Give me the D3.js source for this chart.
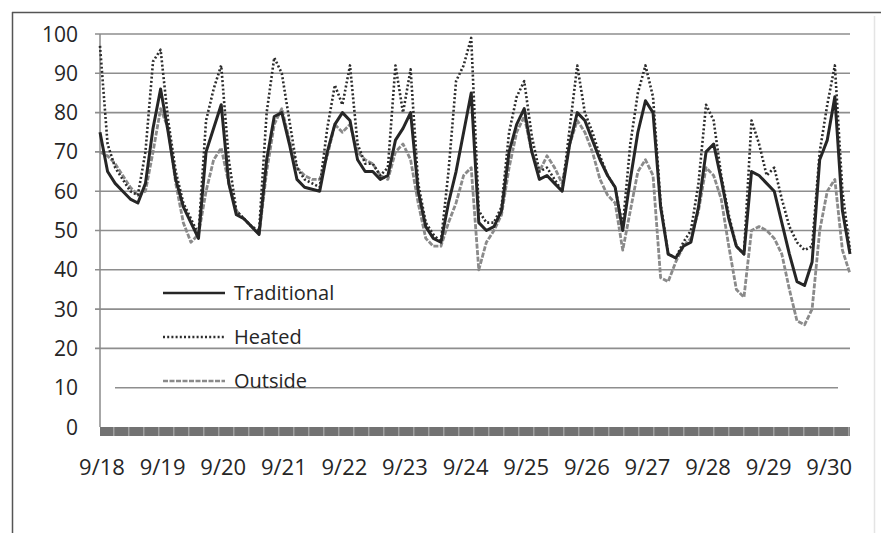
<!DOCTYPE html>
<html>
<head>
<meta charset="utf-8">
<script src="https://cdn.jsdelivr.net/npm/d3@7.9.0/dist/d3.min.js"></script>
<style>
  body { margin: 0; background: #fff; }
  svg { display: block; }
  text { font-family: "Open Sans", sans-serif; fill: #262626; }
</style>
</head>
<body>
<svg id="chart" width="881" height="533"></svg>
<script>
// readings every 3 hours, 9/18 through 9/30
const dayLabels = ['9/18', '9/19', '9/20', '9/21', '9/22', '9/23', '9/24',
                   '9/25', '9/26', '9/27', '9/28', '9/29', '9/30'];
const yTicks = [0, 10, 20, 30, 40, 50, 60, 70, 80, 90, 100];

const traditional = [
  75, 65, 62, 60, 58, 57, 62, 76, 86, 75,
  63, 56, 52, 48, 70, 76, 82, 62, 54, 53,
  51, 49, 68, 79, 80, 72, 63, 61, 60.5, 60,
  70, 77, 80, 78, 68, 65, 65, 63, 64, 73,
  76, 80, 60, 51, 48, 47, 57, 65, 75, 85,
  52, 50, 51, 55, 70, 77, 81, 70, 63, 64,
  62, 60, 72, 80, 78, 73, 68, 64, 61, 50,
  63, 75, 83, 80, 56, 44, 43, 46, 47, 56,
  70, 72, 63, 53, 46, 44, 65, 64, 62, 60,
  52, 44, 37, 36, 42, 68, 73, 84, 55, 44
];
const heated = [
  97, 72, 66, 63, 60, 59, 70, 93, 96, 78,
  65, 57, 53, 49, 78, 86, 92, 68, 55, 53,
  51, 50, 80, 94, 90, 78, 66, 63, 62, 61,
  76, 87, 82, 92, 72, 67, 67, 64, 66, 92,
  80, 91, 62, 52, 49, 47, 65, 88, 92, 99,
  55, 52, 52, 56, 75, 84, 88, 74, 65, 66,
  63, 60, 76, 92, 80, 75, 69, 64, 61, 51,
  72, 85, 92, 84, 57, 44, 43, 47, 50, 62,
  82, 78, 64, 54, 46, 44, 78, 72, 64, 66,
  58, 51, 47, 45, 46, 70, 82, 92, 60, 45
];
const outside = [
  70, 69, 67, 64, 61, 59, 60, 70, 81, 76,
  62, 52, 47, 49, 60, 68, 71, 62, 55, 53,
  51, 49, 65, 77, 81, 73, 66, 64, 63, 63,
  69, 77, 75, 77, 70, 68, 67, 64, 63, 70,
  72, 68, 57, 48, 46, 46, 52, 57, 64, 66,
  40, 47, 50, 54, 66, 75, 79, 70, 65, 69,
  66, 62, 72, 78, 75, 70, 63, 59, 57, 45,
  55, 65, 68, 64, 38, 37, 42, 46, 48, 55,
  66, 64, 58, 46, 35, 33, 50, 51, 50, 48,
  44, 35, 27, 26, 30, 50, 60, 63, 45, 39
];

const seriesList = [
  { name: 'Outside', values: outside, color: '#8a8a8a', dash: '5,1.5', width: 2.8 },
  { name: 'Heated', values: heated, color: '#2c2c2c', dash: '2,2.2', width: 2.6 },
  { name: 'Traditional', values: traditional, color: '#262626', dash: null, width: 3 }
];
const legendOrder = ['Traditional', 'Heated', 'Outside'];

const stepsPerDay = 8;

const svg = d3.select('#chart');

// outer frame
svg.append('line').attr('x1', 12).attr('x2', 881).attr('y1', 12.5).attr('y2', 12.5)
  .attr('stroke', '#555').attr('stroke-width', 1.5);
svg.append('line').attr('x1', 12.5).attr('x2', 12.5).attr('y1', 12).attr('y2', 533)
  .attr('stroke', '#555').attr('stroke-width', 1.5);
svg.append('line').attr('x1', 874.5).attr('x2', 874.5).attr('y1', 16).attr('y2', 533)
  .attr('stroke', '#e4e4e4').attr('stroke-width', 1.5);

const x = d3.scaleLinear().domain([0, traditional.length - 1]).range([100, 850]);
const y = d3.scaleLinear().domain([0, 100]).range([427, 34]);

// horizontal grid
svg.append('g')
  .selectAll('line')
  .data(yTicks.filter(t => t > 0))
  .join('line')
  .attr('x1', d => d === 10 ? 115 : 95)
  .attr('x2', d => d === 10 ? 838 : 850)
  .attr('y1', d => y(d)).attr('y2', d => y(d))
  .attr('stroke', '#8e8e8e').attr('stroke-width', 1.6);

// y axis line
svg.append('line').attr('x1', 100).attr('x2', 100).attr('y1', y(100)).attr('y2', y(0))
  .attr('stroke', '#8a8a8a').attr('stroke-width', 1.5);

// y tick labels
svg.append('g')
  .selectAll('text')
  .data(yTicks)
  .join('text')
  .attr('x', 78).attr('y', d => y(d))
  .attr('dy', '0.36em')
  .attr('text-anchor', 'end')
  .attr('font-size', 21)
  .text(d => d);

// dense category ticks along the zero line
const band = svg.append('g');
band.append('line')
  .attr('x1', x(0)).attr('x2', x(traditional.length - 1))
  .attr('y1', y(0) + 4.5).attr('y2', y(0) + 4.5)
  .attr('stroke', '#727272').attr('stroke-width', 9);
band.append('line')
  .attr('x1', x(0) + 13).attr('x2', x(traditional.length - 1))
  .attr('y1', y(0) + 4.5).attr('y2', y(0) + 4.5)
  .attr('stroke', '#a0a0a0').attr('stroke-width', 9)
  .attr('stroke-dasharray', '1.5,13.5');

// x labels
svg.append('g')
  .selectAll('text')
  .data(dayLabels)
  .join('text')
  .attr('x', (d, i) => x(i * stepsPerDay) + 2)
  .attr('y', 475)
  .attr('text-anchor', 'middle')
  .attr('font-size', 22)
  .text(d => d);

// series
const line = d3.line()
  .x((d, i) => x(i))
  .y(d => y(d));

seriesList.forEach(s => {
  svg.append('path')
    .datum(s.values)
    .attr('d', line)
    .attr('fill', 'none')
    .attr('stroke', s.color)
    .attr('stroke-width', s.width)
    .attr('stroke-linejoin', 'round')
    .attr('stroke-dasharray', s.dash);
});

// legend inside the plot
const legend = svg.append('g').attr('transform', 'translate(163,293)');
legendOrder.forEach((name, i) => {
  const s = seriesList.find(d => d.name === name);
  const g = legend.append('g').attr('transform', `translate(0,${i * 44})`);
  g.append('line')
    .attr('x1', 0).attr('x2', 62).attr('y1', 0).attr('y2', 0)
    .attr('stroke', s.color).attr('stroke-width', 2.4)
    .attr('stroke-dasharray', s.dash);
  g.append('text')
    .attr('x', 71).attr('y', 0).attr('dy', '0.35em')
    .attr('font-size', 20)
    .text(name);
});
</script>
</body>
</html>
